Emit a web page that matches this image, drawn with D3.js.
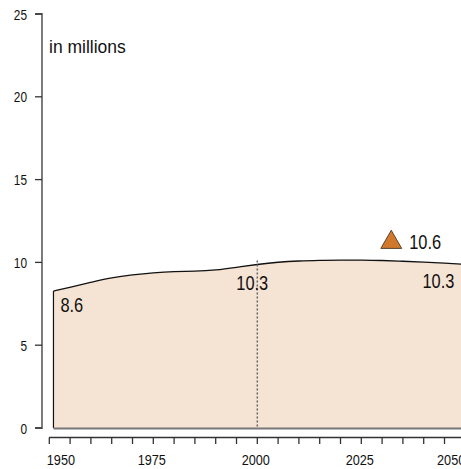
<!DOCTYPE html>
<html>
<head>
<meta charset="utf-8">
<script src="https://cdn.jsdelivr.net/npm/d3@7"></script>
<style>
  html, body { margin: 0; padding: 0; background: #fff; overflow: hidden; }
  .cond { font-family: "Liberation Sans", Arial, sans-serif; }
</style>
</head>
<body>
<div id="chart"></div>
<script>
const width = 461;
const height = 469;

// population, in millions
const years = [1951, 1955, 1960, 1965, 1970, 1975, 1980, 1985, 1990, 1995, 2000,
               2005, 2010, 2015, 2020, 2025, 2030, 2035, 2040, 2045, 2050];
const population = [8.27, 8.5, 8.8, 9.08, 9.25, 9.38, 9.46, 9.46, 9.53, 9.7, 9.88,
                    10.02, 10.09, 10.12, 10.14, 10.14, 10.12, 10.07, 10.02, 9.96, 9.88];

const yTicks = [0, 5, 10, 15, 20, 25];
const xLabelYears = [1950, 1975, 2000, 2025, 2050];
const xTickYears = d3.range(1950, 2051, 5);

// value labels
const labelYears = [1951, 2000, 2050];
const labelTexts = ["8.6", "10.3", "10.3"];

// projection marker
const markerYear = 2032.2;
const markerValue = 11.3;
const markerText = "10.6";

const refYear = 2000;

// narrow type: Arial metrics squeezed sideways
const squeeze = 0.82;
function narrow(px, py) {
    return `translate(${px},${py}) scale(${squeeze},1)`;
}

const svg = d3.select("#chart")
    .append("svg")
    .attr("width", width)
    .attr("height", height);

const x = d3.scaleLinear().domain([1950, 2050]).range([49.3, 465.3]);
const y = d3.scaleLinear().domain([0, 25]).range([428, 14]);

const data = years.map((yr, i) => ({ year: yr, value: population[i] }));

// area
const area = d3.area()
    .x(d => x(d.year))
    .y0(y(0))
    .y1(d => y(d.value))
    .curve(d3.curveBasis);

svg.append("path")
    .datum(data)
    .attr("d", area)
    .attr("fill", "#f5e3d4");

const line = d3.line()
    .x(d => x(d.year))
    .y(d => y(d.value))
    .curve(d3.curveBasis);

svg.append("path")
    .datum(data)
    .attr("d", line)
    .attr("fill", "none")
    .attr("stroke", "#111")
    .attr("stroke-width", 1.3);

// left edge of the area
svg.append("line")
    .attr("x1", x(years[0])).attr("x2", x(years[0]))
    .attr("y1", y(0)).attr("y2", y(population[0]))
    .attr("stroke", "#111")
    .attr("stroke-width", 1.2);

// bottom of the area
svg.append("line")
    .attr("x1", x(years[0])).attr("x2", width)
    .attr("y1", y(0) + 0.5).attr("y2", y(0) + 0.5)
    .attr("stroke", "#777")
    .attr("stroke-width", 1.8);

// dotted reference line at 2000
const refIdx = years.indexOf(refYear);
svg.append("line")
    .attr("x1", x(refYear)).attr("x2", x(refYear))
    .attr("y1", y(population[refIdx]) - 4).attr("y2", y(0))
    .attr("stroke", "#666")
    .attr("stroke-width", 1.5)
    .attr("stroke-dasharray", "2,2");

// y axis
const yAxis = svg.append("g");
yAxis.append("path")
    .attr("d", `M35,${y(25)}H42V${y(0)}H35`)
    .attr("fill", "none")
    .attr("stroke", "#6e6e6e")
    .attr("stroke-width", 1.8);
yAxis.selectAll(".ytick")
    .data(yTicks)
    .enter()
    .append("line")
    .attr("x1", 35).attr("x2", 42)
    .attr("y1", d => y(d)).attr("y2", d => y(d))
    .attr("stroke", "#333")
    .attr("stroke-width", 1.3);
yAxis.selectAll(".ylabel")
    .data(yTicks)
    .enter()
    .append("text")
    .attr("class", "cond")
    .attr("transform", d => narrow(27, y(d) + 5.5))
    .attr("text-anchor", "end")
    .attr("font-size", 14.5)
    .attr("fill", "#111")
    .text(d => d);

// x axis
const xAxis = svg.append("g").attr("transform", "translate(0,437.5)");
xAxis.append("line")
    .attr("x1", 49).attr("x2", width)
    .attr("stroke", "#333")
    .attr("stroke-width", 1.5);
xAxis.selectAll(".xtick")
    .data(xTickYears)
    .enter()
    .append("line")
    .attr("x1", d => x(d)).attr("x2", d => x(d))
    .attr("y1", 0).attr("y2", 6.5)
    .attr("stroke", "#333")
    .attr("stroke-width", 1.3);
const lastX = xLabelYears.length - 1;
xAxis.selectAll(".xlabel")
    .data(xLabelYears)
    .enter()
    .append("text")
    .attr("class", "cond")
    .attr("transform", (d, i) => narrow(i === 0 ? x(d) - 2.5 : (i === lastX ? x(d) : x(d) - 1.5), 27.5))
    .attr("text-anchor", (d, i) => i === 0 ? "start" : (i === lastX ? "end" : "middle"))
    .attr("font-size", 15.5)
    .attr("fill", "#111")
    .text(d => d);

// unit label
svg.append("text")
    .attr("x", 49)
    .attr("y", 53)
    .attr("font-family", "'Liberation Sans', Arial, sans-serif")
    .attr("font-size", 17.5)
    .attr("fill", "#111")
    .text("in millions");

// value labels
const labelAnchor = ["start", "middle", "end"];
const labelDx = [7, -5, -11];
const labelDy = [20.5, 26, 23.5];
svg.selectAll(".vlabel")
    .data(labelYears)
    .enter()
    .append("text")
    .attr("class", "cond")
    .attr("transform", (d, i) => narrow(x(d) + labelDx[i], y(population[years.indexOf(d)]) + labelDy[i]))
    .attr("text-anchor", (d, i) => labelAnchor[i])
    .attr("font-size", 20)
    .attr("fill", "#111")
    .text((d, i) => labelTexts[i]);

// projection marker
svg.append("path")
    .attr("d", d3.symbol().type(d3.symbolTriangle).size(190)())
    .attr("transform", `translate(${x(markerYear)},${y(markerValue) + 1.5})`)
    .attr("fill", "#d0782c")
    .attr("stroke", "#3a2a1a")
    .attr("stroke-width", 0.8);

svg.append("text")
    .attr("class", "cond")
    .attr("transform", narrow(x(markerYear) + 18, y(markerValue) + 8.5))
    .attr("font-size", 20)
    .attr("fill", "#111")
    .text(markerText);
</script>
</body>
</html>
